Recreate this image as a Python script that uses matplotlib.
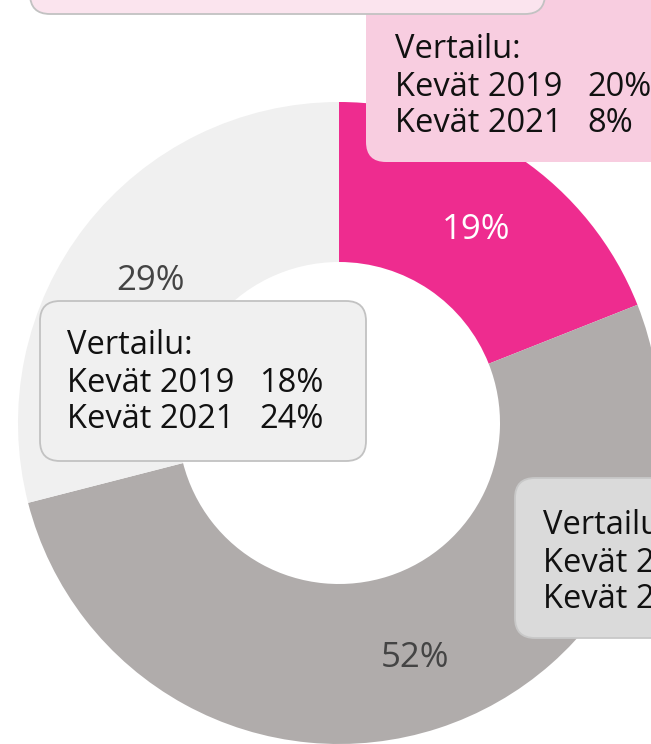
import matplotlib.pyplot as plt
from matplotlib.patches import FancyBboxPatch

# survey shares, clockwise from the top
labels = ['pink', 'gray', 'light']
shares = [19, 52, 29]
colours = ['#ee2c8f', '#b0acab', '#f0f0f0']
pct_colours = ['white', '#444444', '#444444']

# comparison values per segment (spring 2019, spring 2021)
years = ['Kevät 2019', 'Kevät 2021']
compare_pink = [20, 8]
compare_light = [18, 24]
compare_gray = [62, 68]

W, H = 651, 744
plt.rcParams['font.family'] = ['Open Sans', 'DejaVu Sans']

fig = plt.figure(figsize=(W / 100, H / 100), dpi=100)
ax = fig.add_axes([0, 0, 1, 1])


def py(y):
    # pixel row (from top) -> data y
    return H - y


wedges, _, pcts = ax.pie(shares, colors=colours, startangle=90, counterclock=False,
                         center=(339, py(423)), radius=321,
                         wedgeprops=dict(width=160, edgecolor='none'),
                         autopct='%d%%', pctdistance=0.75,
                         textprops=dict(fontsize=25))
for t, c in zip(pcts, pct_colours):
    t.set_color(c)
    x, y = t.get_position()
    t.set_position((x + 2, y - 6))


def comp_box(x0, y0, x1, y1, fill, edge, values, tx, ty):
    box = FancyBboxPatch((x0, py(y1)), x1 - x0, y1 - y0,
                         boxstyle='round,pad=0,rounding_size=20',
                         facecolor=fill, edgecolor=edge, linewidth=1.3, zorder=3)
    ax.add_patch(box)
    ax.text(tx, py(ty), 'Vertailu:', fontsize=23.5, color='#111111',
            va='center', ha='left', zorder=4)
    for i, (yr, v) in enumerate(zip(years, values)):
        yy = py(ty + 37 * (i + 1))
        ax.text(tx, yy, yr, fontsize=23.5, color='#111111', va='center', ha='left', zorder=4)
        ax.text(tx + 192, yy, f'{v}%', fontsize=23.5, color='#111111',
                va='center', ha='left', zorder=4)


comp_box(366, -30, 720, 162, '#f8cde0', 'none', compare_pink, 395, 50)
comp_box(40, 301, 366, 461, '#f0f0f0', '#c2c2c2', compare_light, 67, 346)
comp_box(515, 478, 720, 638, '#dadada', '#c8c8c8', compare_gray, 543, 526)

# header box at the top
top = FancyBboxPatch((30, py(14)), 515, 80, boxstyle='round,pad=0,rounding_size=20',
                     facecolor='#fbe4ee', edgecolor='#c2c2c2', linewidth=1.3, zorder=5)
ax.add_patch(top)

ax.set_xlim(0, W)
ax.set_ylim(0, H)
ax.set_aspect('equal')
ax.axis('off')

fig.savefig('out.png', dpi=100)
